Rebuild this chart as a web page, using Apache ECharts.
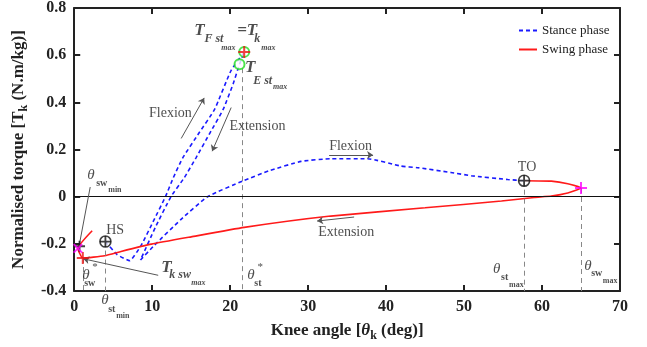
<!DOCTYPE html>
<html>
<head>
<meta charset="utf-8">
<script src="https://cdn.jsdelivr.net/npm/echarts/dist/echarts.min.js"></script>
<style>
html, body { margin: 0; padding: 0; background: #fff; }
#main { width: 647px; height: 347px; }
</style>
</head>
<body>
<div id="main"></div>
<script>
// stance phase loop (knee angle in deg, torque in N.m/kg)
var stanceAngle = [4.0, 5.5, 7.1, 8.6, 10.2, 11.7, 12.7, 13.9, 16.0, 18.0, 20.1, 21.8,
    21.2, 20.4, 19.1, 17.4, 15.6, 14.1, 12.4, 10.4, 8.5,
    10.3, 13.7, 17.1, 21.7, 25.0, 29.1, 32.9, 37.6, 41.9, 44.1, 48.3, 50.9, 55.6, 57.7];
var stanceTorque = [-0.19, -0.245, -0.271, -0.205, -0.10, 0, 0.08, 0.164, 0.27, 0.37, 0.534, 0.614,
    0.562, 0.48, 0.37, 0.27, 0.164, 0.08, 0, -0.13, -0.268,
    -0.205, -0.096, 0, 0.068, 0.11, 0.15, 0.161, 0.161, 0.13, 0.123, 0.103, 0.089, 0.073, 0.068];

// swing phase
var swingAngle = [57.7, 61.2, 63.3, 65.0, 63.3, 61.2, 59.0, 54.8, 45.0, 32.9, 21.8, 15.0, 9.9, 6.0, 3.9, 1.1, 0.47, 2.3];
var swingTorque = [0.068, 0.066, 0.055, 0.037, 0.016, 0.003, -0.003, -0.018, -0.047, -0.082, -0.130, -0.170, -0.201, -0.232, -0.250, -0.260, -0.219, -0.144];

// event points
var hsPoint = [4.0, -0.19];       // heel strike
var toPoint = [57.7, 0.068];      // toe off
var peakPoint = [21.8, 0.614];    // T_F st max = T_k max
var extPoint = [21.2, 0.562];     // T_E st max
var swMaxPoint = [65.0, 0.037];   // theta sw max
var swMinPoint = [0.47, -0.219];  // theta sw min
var swStarPoint = [1.1, -0.26];   // T_k sw max

var serif = '"Liberation Serif", "DejaVu Serif", serif';

function zip(a, b) {
    var out = [];
    for (var i = 0; i < a.length; i++) out.push([a[i], b[i]]);
    return out;
}

// annotation text, placed in data units
// [text, x, y, size, weight, italic]
var notes = [
    ['T', 15.4, 0.703, 17, 'bold', true],
    ['F st', 16.7, 0.670, 12, 'bold', true],
    ['max', 18.85, 0.629, 8, 'bold', true],
    ['=T', 20.9, 0.703, 17, 'bold', true],
    ['k', 23.1, 0.670, 12, 'bold', true],
    ['max', 24.0, 0.629, 8, 'bold', true],
    ['T', 21.9, 0.547, 17, 'bold', true],
    ['E st', 22.95, 0.493, 12, 'bold', true],
    ['max', 25.5, 0.464, 8, 'bold', true],
    ['θ', 1.67, 0.090, 15, 'normal', true],
    ['sw', 2.82, 0.058, 10, 'bold', false],
    ['min', 4.36, 0.029, 8, 'bold', false],
    ['HS', 4.1, -0.144, 14, 'normal', false],
    ['θ', 1.03, -0.333, 15, 'normal', true],
    ['*', 2.3, -0.30, 11, 'normal', false],
    ['sw', 1.28, -0.366, 10, 'bold', false],
    ['T', 11.15, -0.300, 17, 'bold', true],
    ['k sw', 12.2, -0.333, 12, 'bold', true],
    ['max', 15.0, -0.366, 8, 'bold', true],
    ['θ', 22.2, -0.333, 15, 'normal', true],
    ['*', 23.5, -0.30, 11, 'normal', false],
    ['st', 23.1, -0.366, 10, 'bold', false],
    ['θ', 3.46, -0.440, 15, 'normal', true],
    ['st', 4.36, -0.477, 10, 'bold', false],
    ['min', 5.38, -0.506, 8, 'bold', false],
    ['θ', 53.7, -0.308, 15, 'normal', true],
    ['st', 54.74, -0.341, 10, 'bold', false],
    ['max', 55.77, -0.374, 8, 'bold', false],
    ['θ', 65.4, -0.292, 15, 'normal', true],
    ['sw', 66.3, -0.325, 10, 'bold', false],
    ['max', 67.8, -0.358, 8, 'bold', false],
    ['TO', 56.9, 0.123, 14, 'normal', false],
    ['Flexion', 9.6, 0.353, 14, 'normal', false],
    ['Extension', 19.9, 0.300, 14, 'normal', false],
    ['Flexion', 32.7, 0.214, 14, 'normal', false],
    ['Extension', 31.3, -0.152, 14, 'normal', false]
];

// arrows and pointer lines [x1, y1, x2, y2, arrow]
var arrows = [
    [13.72, 0.247, 16.67, 0.419, true],
    [20.13, 0.378, 17.69, 0.193, true],
    [32.69, 0.177, 38.33, 0.177, true],
    [35.9, -0.086, 31.15, -0.103, true],
    [2.05, 0.041, 0.64, -0.206, false],
    [10.77, -0.333, 1.15, -0.263, true]
];

// grey dashed guides from event points down to the axis
var guides = [swStarPoint, hsPoint, [21.5, 0.545], toPoint, swMaxPoint];

var noteData = notes.map(function (n) {
    return {
        value: [n[1], n[2]],
        label: {
            show: true,
            formatter: n[0],
            position: [0, 0],
            align: 'left',
            verticalAlign: 'middle',
            fontFamily: serif,
            fontSize: n[3],
            fontWeight: n[4],
            fontStyle: n[5] ? 'italic' : 'normal',
            color: '#222'
        }
    };
});

var arrowData = arrows.map(function (a) {
    return [
        { coord: [a[0], a[1]], symbol: 'none' },
        { coord: [a[2], a[3]], symbol: a[4] ? 'arrow' : 'none', symbolSize: 6 }
    ];
});

var guideData = guides.map(function (g) {
    return [{ coord: [g[0], g[1]] }, { coord: [g[0], -0.4] }];
});

var plusPath = 'path://M5,0H7V5H12V7H7V12H5V7H0V5H5Z';

var chart = echarts.init(document.getElementById('main'));

function axisCommon(extra) {
    return Object.assign({
        type: 'value',
        axisLine: { show: true, onZero: false, lineStyle: { color: '#222', width: 2 } },
        axisTick: { show: true, inside: true, length: 6, lineStyle: { color: '#222', width: 2 } },
        splitLine: { show: false }
    }, extra);
}

chart.setOption({
    animation: false,
    backgroundColor: '#fff',
    grid: { left: 73, right: 27, top: 5, bottom: 50 },
    legend: {
        orient: 'vertical',
        left: 518,
        top: 24,
        padding: 0,
        itemWidth: 18,
        itemHeight: 10,
        itemGap: 6,
        itemStyle: { opacity: 0 },
        textStyle: { fontFamily: serif, fontSize: 13, color: '#222' },
        data: ['Stance phase', 'Swing phase']
    },
    xAxis: [
        axisCommon({
            min: 0, max: 70, interval: 10, position: 'bottom',
            axisLabel: { margin: 8, fontFamily: serif, fontSize: 16, fontWeight: 'bold', color: '#222' },
            name: 'Knee angle [{th|θ}{k|k} (deg)]',
            nameLocation: 'middle',
            nameGap: 24,
            nameTextStyle: {
                fontFamily: serif, fontSize: 17, fontWeight: 'bold', color: '#222', lineHeight: 22,
                rich: {
                    th: { fontFamily: serif, fontSize: 17, fontStyle: 'italic', color: '#222' },
                    k: { fontFamily: serif, fontSize: 12, fontWeight: 'bold', color: '#222', verticalAlign: 'bottom', lineHeight: 12 }
                }
            }
        }),
        axisCommon({
            min: 0, max: 70, interval: 10, position: 'top',
            axisLabel: { show: false }
        })
    ],
    yAxis: [
        axisCommon({
            min: -0.4, max: 0.8, interval: 0.2, position: 'left',
            axisLabel: { margin: 8, fontFamily: serif, fontSize: 16, fontWeight: 'bold', color: '#222' },
            name: 'Normalised torque [T{k|k} (N.m/kg)]',
            nameLocation: 'middle',
            nameGap: 44,
            nameTextStyle: {
                fontFamily: serif, fontSize: 17, fontWeight: 'bold', color: '#222', lineHeight: 22,
                rich: {
                    k: { fontFamily: serif, fontSize: 12, fontWeight: 'bold', color: '#222', verticalAlign: 'bottom', lineHeight: 12 }
                }
            }
        }),
        axisCommon({
            min: -0.4, max: 0.8, interval: 0.2, position: 'right',
            axisLabel: { show: false }
        })
    ],
    series: [
        {
            name: 'guides',
            type: 'line',
            data: [],
            silent: true,
            z: 1,
            markLine: {
                silent: true,
                symbol: 'none',
                label: { show: false },
                lineStyle: { color: '#888', type: [5, 4], width: 1 },
                data: guideData.concat([[
                    { coord: [0, 0], lineStyle: { color: '#111', type: 'solid', width: 1.2 } },
                    { coord: [70, 0] }
                ]])
            }
        },
        {
            name: 'Stance phase',
            type: 'line',
            data: zip(stanceAngle, stanceTorque),
            symbol: 'none',
            smooth: 0.15,
            z: 3,
            itemStyle: { color: '#1a1aff' },
            lineStyle: { color: '#1a1aff', width: 1.6, type: [4, 3] }
        },
        {
            name: 'Swing phase',
            type: 'line',
            data: zip(swingAngle, swingTorque),
            symbol: 'none',
            smooth: 0.15,
            z: 3,
            itemStyle: { color: '#ff1a1a' },
            lineStyle: { color: '#ff1a1a', width: 1.6 }
        },
        {
            name: 'arrows',
            type: 'line',
            data: [],
            silent: true,
            markLine: {
                silent: true,
                label: { show: false },
                lineStyle: { color: '#555', type: 'solid', width: 1 },
                itemStyle: { color: '#222' },
                data: arrowData
            }
        },
        // event markers
        {
            type: 'scatter', z: 5, silent: true,
            symbol: 'circle', symbolSize: 11,
            itemStyle: { color: '#fff', borderColor: '#111', borderWidth: 1.6 },
            data: [hsPoint, toPoint]
        },
        {
            type: 'scatter', z: 6, silent: true,
            symbol: plusPath, symbolSize: 11,
            itemStyle: { color: '#111' },
            data: [hsPoint, toPoint, [swMinPoint[0] + 0.21, swMinPoint[1] + 0.009]]
        },
        {
            type: 'scatter', z: 6, silent: true,
            symbol: 'emptyCircle', symbolSize: 10,
            itemStyle: { color: '#22dd22', borderColor: '#22dd22', borderWidth: 1.6 },
            data: [peakPoint, extPoint]
        },
        {
            type: 'scatter', z: 7, silent: true,
            symbol: plusPath, symbolSize: 12,
            itemStyle: { color: '#ee1111' },
            data: [peakPoint, swStarPoint]
        },
        {
            type: 'scatter', z: 7, silent: true,
            symbol: plusPath, symbolSize: 12,
            itemStyle: { color: '#ff00ff' },
            data: [swMaxPoint]
        },
        {
            type: 'scatter', z: 7, silent: true,
            symbol: plusPath, symbolSize: 12, symbolRotate: 45,
            itemStyle: { color: '#ff00ff' },
            data: [swMinPoint]
        },
        // text annotations
        {
            type: 'scatter', z: 8, silent: true, clip: false,
            symbolSize: 0,
            data: noteData
        }
    ]
});
</script>
</body>
</html>
